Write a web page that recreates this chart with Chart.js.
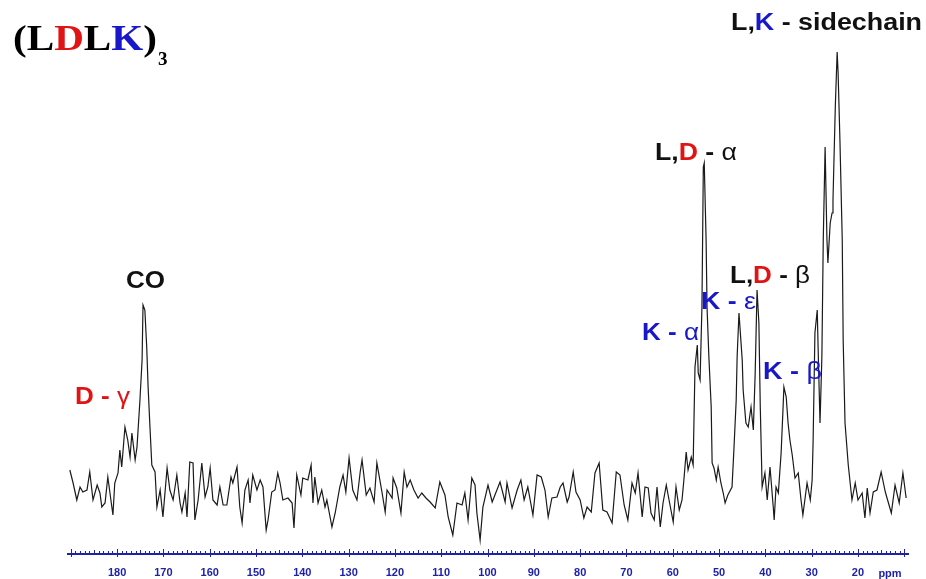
<!DOCTYPE html>
<html>
<head>
<meta charset="utf-8">
<title>(LDLK)3 13C spectrum</title>
<script src="https://cdn.jsdelivr.net/npm/chart.js@4.4.1/dist/chart.umd.min.js"></script>
<style>
  html, body { margin: 0; padding: 0; background: #fff; }
  canvas { display: block; }
</style>
</head>
<body>
<canvas id="spectrum" width="926" height="579"></canvas>
<script>
// ─── Data ──────────────────────────────────
// chemical shift (ppm), high → low
const shiftPpm = [
  190.2, 189.5, 188.7, 188.0, 187.4, 186.5, 185.9, 185.2, 184.3, 183.7, 183.3, 182.6, 182.0, 180.9, 180.5,
  179.8, 179.4, 179.0, 178.3, 177.7, 177.2, 176.8, 176.1, 175.7, 175.1, 174.6, 174.4, 174.0, 173.6, 173.3,
  172.9, 172.5, 171.8, 171.4, 170.7, 170.1, 169.2, 168.6, 167.9, 167.1, 166.4, 166.0, 165.3, 164.9, 164.3,
  163.6, 163.2, 162.5, 161.7, 161.0, 160.4, 159.9, 159.3, 158.4, 157.8, 157.1, 156.3, 155.4, 155.0, 154.1,
  153.5, 153.0, 152.4, 151.7, 151.3, 150.7, 149.8, 149.1, 148.5, 147.8, 147.4, 146.6, 145.9, 145.3, 144.8,
  144.2, 143.1, 142.2, 141.8, 141.2, 140.3, 139.9, 138.8, 138.1, 137.7, 137.3, 136.6, 135.8, 135.1, 134.7,
  133.6, 132.9, 131.9, 131.2, 130.6, 129.9, 129.1, 128.2, 127.5, 127.1, 126.2, 125.4, 124.5, 123.9, 122.8,
  122.1, 121.7, 120.6, 120.4, 119.6, 118.7, 118.0, 117.4, 116.7, 115.9, 115.0, 114.2, 113.3, 112.4, 111.3,
  110.3, 109.2, 108.5, 107.5, 106.6, 105.5, 104.9, 104.2, 103.4, 102.7, 102.3, 101.6, 101.0, 99.9, 99.0,
  98.4, 97.3, 96.2, 95.8, 94.7, 93.6, 92.8, 92.1, 91.3, 90.2, 89.3, 88.4, 87.6, 86.9, 86.1,
  85.0, 84.3, 83.7, 82.8, 82.4, 81.5, 80.9, 80.0, 79.2, 78.5, 77.6, 76.8, 75.9, 75.1, 74.2,
  73.1, 72.2, 71.4, 70.5, 69.7, 68.8, 68.1, 67.5, 66.6, 66.0, 65.3, 64.7, 64.0, 63.4, 62.7,
  62.1, 61.4, 60.8, 59.9, 59.3, 58.6, 58.0, 57.6, 57.1, 56.7, 56.0, 55.6, 55.2, 54.7, 54.5,
  54.1, 53.7, 53.4, 53.2, 52.8, 52.6, 52.2, 51.7, 51.5, 51.1, 50.6, 50.2, 49.6, 49.1, 48.7,
  48.1, 47.2, 46.8, 46.3, 46.1, 45.7, 45.0, 44.8, 44.2, 43.7, 43.1, 42.6, 42.2, 41.8, 41.4,
  41.1, 40.7, 40.1, 39.6, 39.0, 38.3, 38.1, 37.7, 37.2, 36.6, 36.2, 36.0, 35.5, 35.1, 34.7,
  34.2, 33.6, 32.9, 32.3, 31.9, 31.0, 30.3, 29.9, 29.7, 29.3, 28.8, 28.6, 28.2, 27.8, 27.5,
  27.1, 26.7, 26.5, 26.0, 25.6, 25.4, 24.9, 24.5, 24.3, 23.9, 23.4, 23.2, 22.8, 22.1, 21.3,
  20.6, 20.0, 19.1, 18.5, 18.0, 17.4, 16.7, 15.9, 15.0, 14.1, 12.8, 12.0, 11.1, 10.3, 9.6
];

// signal intensity (arbitrary units)
const intensity = [
  16.8, 14.2, 10.8, 13.4, 12.4, 12.8, 16.4, 10.8, 13.8, 12.2, 9.4, 10.2, 15.4, 7.8, 14.2,
  16.2, 20.8, 17.4, 25.4, 22.8, 19.4, 24.2, 18.8, 21.4, 30.2, 38.8, 49.8, 48.8, 41.4, 33.4,
  25.4, 17.8, 16.4, 9.4, 12.8, 7.4, 17.2, 12.8, 10.8, 15.8, 10.2, 8.4, 12.2, 7.4, 18.4,
  18.2, 6.8, 10.8, 18.2, 11.4, 13.4, 17.2, 10.8, 9.8, 13.4, 9.8, 9.8, 15.4, 14.2, 17.4,
  9.4, 6.2, 12.8, 14.8, 10.2, 15.8, 12.8, 14.8, 13.4, 4.8, 6.8, 12.4, 12.8, 16.2, 14.2,
  10.8, 11.2, 10.2, 5.2, 15.8, 11.8, 15.2, 14.8, 17.8, 10.2, 15.4, 10.2, 12.8, 9.4, 10.8,
  5.4, 8.2, 13.4, 15.8, 12.4, 19.2, 12.8, 10.8, 16.4, 18.8, 11.8, 13.2, 10.4, 18.2, 12.4,
  8.4, 12.8, 11.2, 15.2, 13.2, 8.2, 16.4, 13.4, 14.8, 12.8, 11.2, 12.2, 11.2, 10.4, 9.2,
  14.4, 11.8, 7.4, 3.8, 10.2, 9.8, 12.2, 6.8, 15.2, 13.8, 8.2, 2.8, 9.4, 13.8, 10.4,
  11.8, 14.4, 10.4, 14.2, 9.2, 12.8, 14.8, 10.8, 13.4, 7.8, 15.8, 15.4, 12.8, 7.4, 11.2,
  11.4, 13.4, 14.2, 10.4, 11.4, 16.4, 12.4, 10.8, 7.2, 9.4, 8.4, 16.2, 18.2, 8.8, 8.4,
  6.2, 16.4, 15.8, 9.8, 6.8, 14.2, 12.2, 16.2, 7.4, 13.4, 13.2, 8.2, 6.8, 13.4, 5.4,
  10.2, 13.8, 10.8, 6.4, 13.4, 8.8, 10.8, 14.8, 20.4, 16.8, 19.4, 17.8, 37.4, 41.8, 36.2,
  34.8, 49.4, 77.4, 78.2, 62.8, 49.4, 39.4, 29.4, 18.2, 17.2, 14.8, 17.4, 14.2, 12.2, 10.2,
  11.8, 13.4, 20.8, 30.8, 39.4, 48.2, 38.8, 32.8, 26.2, 25.4, 29.4, 24.8, 36.2, 52.8, 46.2,
  29.4, 13.4, 16.2, 10.8, 17.4, 9.4, 6.8, 13.4, 12.2, 20.2, 28.8, 33.4, 31.4, 26.2, 22.8,
  19.8, 15.2, 16.2, 10.8, 7.8, 14.2, 10.8, 14.8, 22.2, 44.2, 48.8, 40.8, 26.2, 39.4, 62.8,
  81.4, 62.8, 58.2, 66.2, 68.2, 70.8, 89.4, 100.4, 96.4, 82.8, 62.8, 42.8, 26.2, 17.8, 10.8,
  14.2, 10.8, 12.2, 7.2, 13.2, 8.2, 12.4, 12.8, 16.4, 12.4, 8.2, 13.8, 10.2, 16.2, 11.2
];

// labelled ticks on the shift axis
const tickLabels = [180, 170, 160, 150, 140, 130, 120, 110, 100, 90, 80, 70, 60, 50, 40, 30, 20];

// ─── Colours / fonts ───────────────────────
const AXIS_BLUE = "#1f22a8";
const LBL_BLUE  = "#1818c8";
const LBL_RED   = "#e01414";
const LBL_BLACK = "#111111";
const SANS  = '"Liberation Sans", Arial, sans-serif';
const SERIF = '"Liberation Serif", "Times New Roman", serif';

// peak assignments: text runs, left x, baseline, size, stretched width
const peakLabels = [
  { parts: [["L,", LBL_BLACK], ["K", LBL_BLUE], [" - sidechain", LBL_BLACK]], x: 731, y: 30, size: 24, w: 191 },
  { parts: [["L,", LBL_BLACK], ["D", LBL_RED], [" - ", LBL_BLACK], ["α", LBL_BLACK, "normal"]], x: 655, y: 160, size: 24, w: 82 },
  { parts: [["L,", LBL_BLACK], ["D", LBL_RED], [" - ", LBL_BLACK], ["β", LBL_BLACK, "normal"]], x: 730, y: 283, size: 24, w: 80 },
  { parts: [["K - ", LBL_BLUE], ["ε", LBL_BLUE, "normal"]], x: 701, y: 309, size: 23, w: 55 },
  { parts: [["K - ", LBL_BLUE], ["α", LBL_BLUE, "normal"]], x: 642, y: 340, size: 23, w: 57 },
  { parts: [["K - ", LBL_BLUE], ["β", LBL_BLUE, "normal"]], x: 763, y: 379, size: 23, w: 59 },
  { parts: [["CO", LBL_BLACK]], x: 126, y: 288, size: 23, w: 39 },
  { parts: [["D - ", LBL_RED], ["γ", LBL_RED, "normal"]], x: 75, y: 404, size: 23, w: 55 },
];

// ─── Helpers ───────────────────────────────
function drawRuns(ctx, parts, left, baseline, size, width, family) {
  let natural = 0;
  parts.forEach(([t, , weight]) => {
    ctx.font = `${weight || "bold"} ${size}px ${family}`;
    natural += ctx.measureText(t).width;
  });
  ctx.save();
  ctx.translate(left, baseline);
  ctx.scale(width / natural, 1);
  ctx.textBaseline = "alphabetic";
  ctx.textAlign = "left";
  let x = 0;
  parts.forEach(([t, color, weight]) => {
    ctx.font = `${weight || "bold"} ${size}px ${family}`;
    ctx.fillStyle = color;
    ctx.fillText(t, x, 0);
    x += ctx.measureText(t).width;
  });
  ctx.restore();
}

// ─── Plugins ───────────────────────────────
const ppmAxisDecor = {
  id: "ppmAxisDecor",
  afterDraw(chart) {
    const { ctx } = chart;
    const xs = chart.scales.x;
    const y0 = xs.top;
    ctx.save();
    ctx.strokeStyle = AXIS_BLUE;
    ctx.lineWidth = 1;
    ctx.beginPath();
    for (let p = Math.ceil(xs.min); p <= Math.floor(xs.max); p++) {
      const px = Math.round(xs.getPixelForValue(p)) + 0.5;
      if (p % 10 === 0) {
        ctx.moveTo(px, y0 - 5); ctx.lineTo(px, y0 + 3);
      } else if (p % 5 === 0) {
        ctx.moveTo(px, y0 - 4); ctx.lineTo(px, y0);
      } else {
        ctx.moveTo(px, y0 - 3); ctx.lineTo(px, y0);
      }
    }
    ctx.stroke();
    ctx.fillStyle = AXIS_BLUE;
    ctx.font = `bold 11px ${SANS}`;
    ctx.textAlign = "center";
    ctx.textBaseline = "alphabetic";
    ctx.fillText("ppm", 890, 577);
    ctx.restore();
  },
};

const annotations = {
  id: "annotations",
  afterDraw(chart) {
    const { ctx } = chart;
    // title
    drawRuns(ctx, [["(", "#000"], ["L", "#000"], ["D", LBL_RED], ["L", "#000"], ["K", LBL_BLUE], [")", "#000"]],
      13, 50, 35, 144, SERIF);
    ctx.save();
    ctx.font = `bold 19px ${SERIF}`;
    ctx.fillStyle = "#000";
    ctx.fillText("3", 158, 65);
    ctx.restore();
    peakLabels.forEach(l => drawRuns(ctx, l.parts, l.x, l.y, l.size, l.w, SANS));
  },
};

// ─── Chart ─────────────────────────────────
const points = shiftPpm.map((p, i) => ({ x: p, y: intensity[i] }));

new Chart(document.getElementById("spectrum"), {
  type: "scatter",
  data: {
    datasets: [{
      data: points,
      showLine: true,
      borderColor: "#1a1a1a",
      borderWidth: 1.2,
      pointRadius: 0,
      tension: 0,
    }],
  },
  options: {
    responsive: false,
    animation: false,
    layout: { padding: { left: 68, right: 18, top: 4, bottom: 0 } },
    plugins: { legend: { display: false }, tooltip: { enabled: false } },
    scales: {
      x: {
        type: "linear",
        reverse: true,
        min: 9.2,
        max: 190.6,
        afterFit: s => { s.height = 25; },
        grid: { display: false, drawTicks: false },
        border: { display: true, color: AXIS_BLUE, width: 2 },
        ticks: {
          stepSize: 10,
          includeBounds: false,
          autoSkip: false,
          maxRotation: 0,
          padding: 12,
          color: AXIS_BLUE,
          font: { family: SANS, size: 11, weight: "bold" },
          callback: v => (tickLabels.includes(v) ? String(v) : ""),
        },
      },
      y: { display: false, min: 0, max: 110 },
    },
  },
  plugins: [ppmAxisDecor, annotations],
});
</script>
</body>
</html>
